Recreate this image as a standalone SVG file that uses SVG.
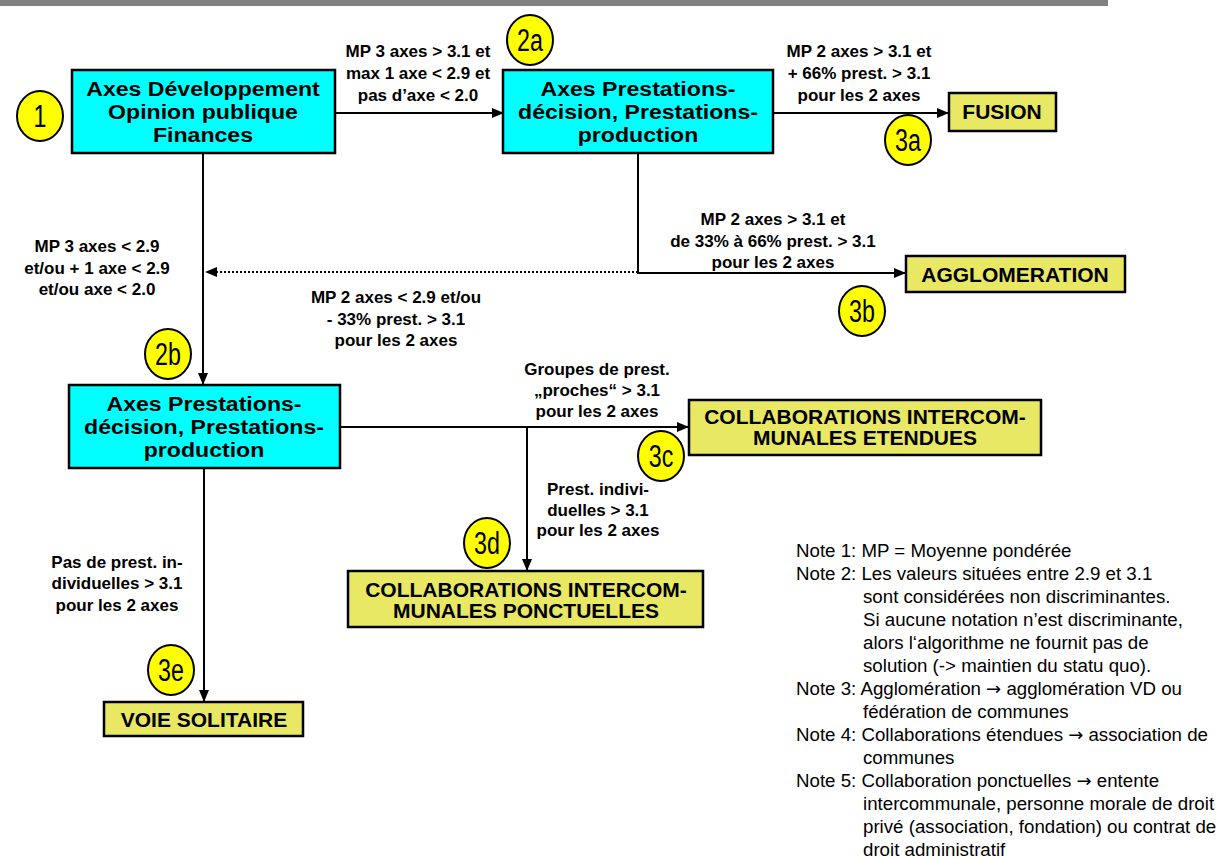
<svg xmlns="http://www.w3.org/2000/svg" width="1225" height="858" viewBox="0 0 1225 858">
<defs>
<marker id="ah" markerUnits="userSpaceOnUse" markerWidth="12" markerHeight="10" refX="11" refY="5" orient="auto">
<path d="M0,0 L12,5 L0,10 Z" fill="#000"/>
</marker>
<style>
.blue{fill:#00FFFF;stroke:#000;stroke-width:2.5}
.res{fill:#E8E864;stroke:#000;stroke-width:2.5}
.circ{fill:#FFFF00;stroke:#000;stroke-width:2}
.bt{font-family:"Liberation Sans",Arial,sans-serif;font-weight:bold;font-size:21px;text-anchor:middle;fill:#000}
.rt{font-family:"Liberation Sans",Arial,sans-serif;font-weight:bold;font-size:21px;text-anchor:middle;fill:#000}
.lbl{font-family:"Liberation Sans",Arial,sans-serif;font-weight:bold;font-size:17px;text-anchor:middle;fill:#000}
.num{font-family:"Liberation Sans",Arial,sans-serif;font-size:31px;text-anchor:middle;fill:#000}
.note{font-family:"Liberation Sans",Arial,sans-serif;font-size:18.7px;fill:#000}
.arr{font-family:"DejaVu Sans",sans-serif;font-size:18px}
.ln{fill:none;stroke:#000;stroke-width:2}
</style>
</defs>
<rect x="0" y="0" width="1108" height="6" fill="#808080"/>

<g id="connectors">
<path class="ln" d="M335,113 H503" marker-end="url(#ah)"/>
<path class="ln" d="M773,113 H948" marker-end="url(#ah)"/>
<path class="ln" d="M638,153 V273 H905" marker-end="url(#ah)"/>
<path class="ln" d="M638,272 H206" stroke-dasharray="2,2" marker-end="url(#ah)"/>
<path class="ln" d="M203,153 V384" marker-end="url(#ah)"/>
<path class="ln" d="M340,427 H688" marker-end="url(#ah)"/>
<path class="ln" d="M527,427 V570" marker-end="url(#ah)"/>
<path class="ln" d="M204,468 V701" marker-end="url(#ah)"/>
<text class="lbl"><tspan x="418" y="57">MP 3 axes &gt; 3.1 et</tspan><tspan x="418" y="79">max 1 axe &lt; 2.9 et</tspan><tspan x="418" y="101">pas d’axe &lt; 2.0</tspan></text>
<text class="lbl"><tspan x="859" y="57">MP 2 axes &gt; 3.1 et</tspan><tspan x="859" y="79">+ 66% prest. &gt; 3.1</tspan><tspan x="859" y="101">pour les 2 axes</tspan></text>
<text class="lbl"><tspan x="773" y="225">MP 2 axes &gt; 3.1 et</tspan><tspan x="773" y="247">de 33% à 66% prest. &gt; 3.1</tspan><tspan x="773" y="268">pour les 2 axes</tspan></text>
<text class="lbl"><tspan x="396" y="303">MP 2 axes &lt; 2.9 et/ou</tspan><tspan x="396" y="325">- 33% prest. &gt; 3.1</tspan><tspan x="396" y="346">pour les 2 axes</tspan></text>
<text class="lbl"><tspan x="97" y="252">MP 3 axes &lt; 2.9</tspan><tspan x="97" y="274">et/ou + 1 axe &lt; 2.9</tspan><tspan x="97" y="295">et/ou axe &lt; 2.0</tspan></text>
<text class="lbl"><tspan x="597" y="375">Groupes de prest.</tspan><tspan x="597" y="396">„proches“ &gt; 3.1</tspan><tspan x="597" y="417">pour les 2 axes</tspan></text>
<text class="lbl"><tspan x="598" y="495">Prest. indivi-</tspan><tspan x="598" y="516">duelles &gt; 3.1</tspan><tspan x="598" y="536">pour les 2 axes</tspan></text>
<text class="lbl"><tspan x="117" y="568">Pas de prest. in-</tspan><tspan x="117" y="589">dividuelles &gt; 3.1</tspan><tspan x="117" y="611">pour les 2 axes</tspan></text>
</g>

<g id="n1">
<rect class="blue" x="72" y="70" width="263" height="83"/>
<text class="bt" transform="translate(203,0) scale(1.1,1)"><tspan x="0" y="96">Axes Développement</tspan><tspan x="0" y="119">Opinion publique</tspan><tspan x="0" y="142">Finances</tspan></text>
</g>
<g id="n2a">
<rect class="blue" x="503" y="70" width="270" height="83"/>
<text class="bt" transform="translate(638,0) scale(1.1,1)"><tspan x="0" y="96">Axes Prestations-</tspan><tspan x="0" y="119">décision, Prestations-</tspan><tspan x="0" y="142">production</tspan></text>
</g>
<g id="n2b">
<rect class="blue" x="69" y="385" width="271" height="83"/>
<text class="bt" transform="translate(204,0) scale(1.1,1)"><tspan x="0" y="411">Axes Prestations-</tspan><tspan x="0" y="434">décision, Prestations-</tspan><tspan x="0" y="457">production</tspan></text>
</g>
<g id="fusion">
<rect class="res" x="949" y="93" width="107" height="38"/>
<text class="rt" x="1002" y="119">FUSION</text>
</g>
<g id="agglo">
<rect class="res" x="906" y="256" width="219" height="36"/>
<text class="rt" x="1015" y="282">AGGLOMERATION</text>
</g>
<g id="etendues">
<rect class="res" x="689" y="400" width="352" height="55"/>
<text class="rt"><tspan x="865" y="424">COLLABORATIONS INTERCOM-</tspan><tspan x="865" y="445">MUNALES ETENDUES</tspan></text>
</g>
<g id="ponctuelles">
<rect class="res" x="348" y="571" width="355" height="56"/>
<text class="rt"><tspan x="526" y="597">COLLABORATIONS INTERCOM-</tspan><tspan x="526" y="618">MUNALES PONCTUELLES</tspan></text>
</g>
<g id="voie">
<rect class="res" x="104" y="702" width="199" height="34"/>
<text class="rt" x="204" y="727">VOIE SOLITAIRE</text>
</g>

<g id="c1"><ellipse class="circ" cx="40" cy="116" rx="23" ry="25"/><text class="num" transform="translate(40,127) scale(0.75,1)">1</text></g>
<g id="c2a"><ellipse class="circ" cx="530" cy="40" rx="23" ry="25"/><text class="num" transform="translate(530,51) scale(0.75,1)">2a</text></g>
<g id="c3a"><ellipse class="circ" cx="908" cy="140" rx="23" ry="25"/><text class="num" transform="translate(908,151) scale(0.75,1)">3a</text></g>
<g id="c3b"><ellipse class="circ" cx="862" cy="311" rx="23" ry="25"/><text class="num" transform="translate(862,322) scale(0.75,1)">3b</text></g>
<g id="c2b"><ellipse class="circ" cx="168" cy="354" rx="23" ry="25"/><text class="num" transform="translate(168,365) scale(0.75,1)">2b</text></g>
<g id="c3c"><ellipse class="circ" cx="661" cy="456" rx="23" ry="25"/><text class="num" transform="translate(661,467) scale(0.75,1)">3c</text></g>
<g id="c3d"><ellipse class="circ" cx="487" cy="543" rx="23" ry="25"/><text class="num" transform="translate(487,554) scale(0.75,1)">3d</text></g>
<g id="c3e"><ellipse class="circ" cx="171" cy="670" rx="23" ry="25"/><text class="num" transform="translate(171,681) scale(0.75,1)">3e</text></g>

<g id="notes">
<text class="note">
<tspan x="796" y="557">Note 1: MP = Moyenne pondérée</tspan>
<tspan x="796" y="580">Note 2: Les valeurs situées entre 2.9 et 3.1</tspan>
<tspan x="863" y="603">sont considérées non discriminantes.</tspan>
<tspan x="863" y="626">Si aucune notation n’est discriminante,</tspan>
<tspan x="863" y="649">alors l‘algorithme ne fournit pas de</tspan>
<tspan x="863" y="672">solution (-&gt; maintien du statu quo).</tspan>
<tspan x="796" y="695">Note 3: Agglomération <tspan class="arr">→</tspan> agglomération VD ou</tspan>
<tspan x="863" y="718">fédération de communes</tspan>
<tspan x="796" y="741">Note 4: Collaborations étendues <tspan class="arr">→</tspan> association de</tspan>
<tspan x="863" y="764">communes</tspan>
<tspan x="796" y="787">Note 5: Collaboration ponctuelles <tspan class="arr">→</tspan> entente</tspan>
<tspan x="863" y="810">intercommunale, personne morale de droit</tspan>
<tspan x="863" y="833">privé (association, fondation) ou contrat de</tspan>
<tspan x="863" y="856">droit administratif</tspan>
</text>
</g>
</svg>
